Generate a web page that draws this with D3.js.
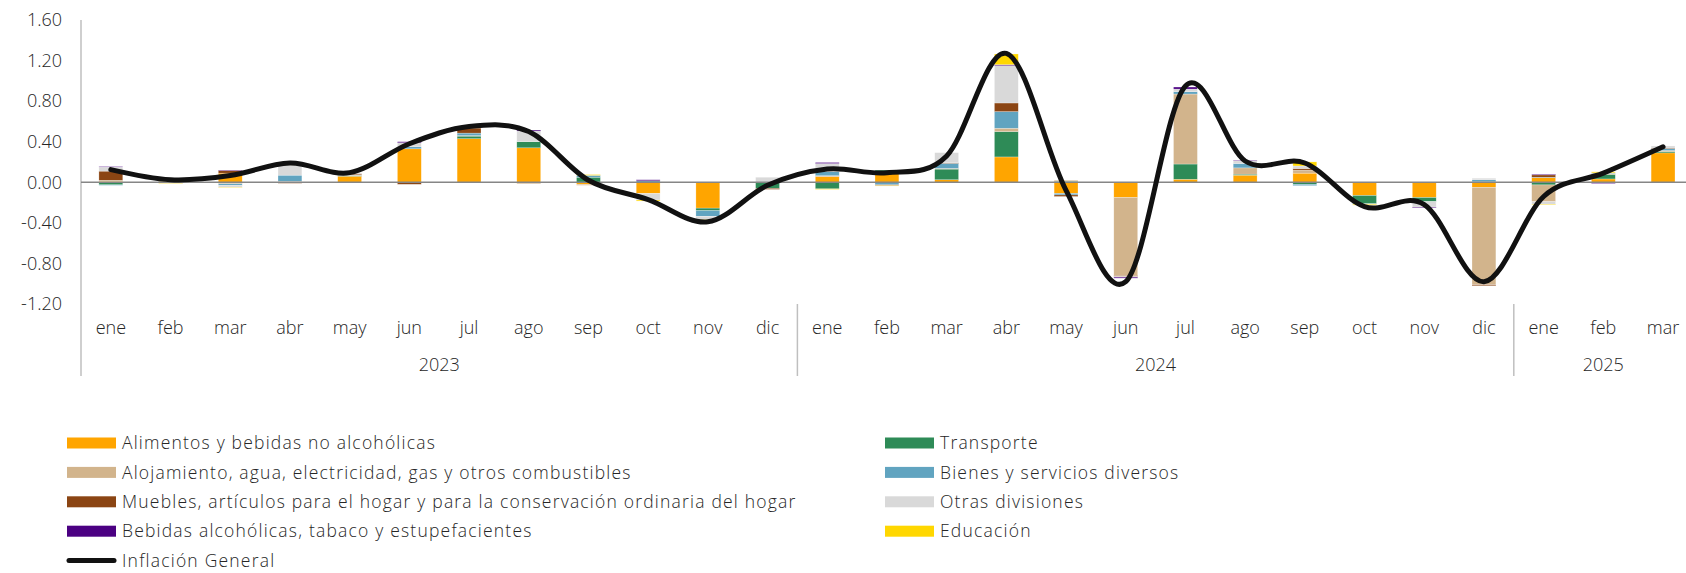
<!DOCTYPE html>
<html>
<head>
<meta charset="utf-8">
<script src="https://cdn.jsdelivr.net/npm/d3@7"></script>
<style>
  body { margin: 0; background: #fff; }
  text { font-family: "Open Sans", Lato, sans-serif; font-weight: 300; fill: #262626; }
</style>
</head>
<body>
<script>
// categories
var months = ["ene","feb","mar","abr","may","jun","jul","ago","sep","oct","nov","dic",
              "ene","feb","mar","abr","may","jun","jul","ago","sep","oct","nov","dic",
              "ene","feb","mar"];
var years = [
  { label: "2023", from: 0, to: 12 },
  { label: "2024", from: 12, to: 24 },
  { label: "2025", from: 24, to: 27 }
];
var yTicks = [-1.2, -0.8, -0.4, 0, 0.4, 0.8, 1.2, 1.6];

// contribution of each division (points)
var alimentos   = [0.01, 0.01, 0.09, 0.005, 0.06, 0.33, 0.43, 0.34, -0.02, -0.11, -0.255, -0.005,
                   0.055, 0.085, 0.025, 0.25, -0.11, -0.15, 0.03, 0.07, 0.09, -0.13, -0.15, -0.05,
                   0.045, 0.033, 0.29];
var transporte  = [-0.025, 0.0, -0.005, 0.0, 0.005, 0.0, 0.025, 0.06, 0.05, 0.0, -0.025, -0.055,
                   -0.065, 0.035, 0.105, 0.25, 0.01, 0.0, 0.15, 0.01, -0.02, -0.082, -0.04, 0.005,
                   -0.026, 0.045, 0.013];
var alojamiento = [0.01, -0.01, -0.01, 0.005, 0.005, 0.0, 0.005, -0.015, -0.01, 0.0, 0.0, 0.0,
                   0.01, 0.0, 0.007, 0.033, 0.01, -0.77, 0.69, 0.062, 0.03, 0.0, 0.0, -0.96,
                   -0.165, 0.01, 0.01];
var bienes      = [-0.005, 0.01, -0.015, 0.06, 0.005, 0.02, 0.025, 0.0, 0.018, 0.015, -0.055, 0.0,
                   0.04, -0.025, 0.05, 0.164, -0.015, 0.0, 0.023, 0.043, -0.013, 0.0, 0.0, 0.02,
                   0.005, 0.005, 0.02];
var muebles     = [0.09, 0.0, 0.025, -0.01, 0.01, -0.02, 0.05, 0.0, 0.0, 0.0, 0.0, -0.01,
                   0.0, -0.008, 0.005, 0.085, -0.015, -0.01, 0.0, 0.0, 0.016, 0.0, 0.0, -0.01,
                   0.023, 0.0, 0.005];
var otras       = [0.04, 0.01, -0.02, 0.10, 0.005, 0.04, 0.005, 0.105, 0.0, -0.065, -0.03, 0.05,
                   0.08, 0.0, 0.1, 0.368, 0.0, -0.005, 0.026, 0.026, 0.025, -0.005, -0.055, 0.015,
                   -0.025, 0.0, 0.02];
var bebidas     = [0.005, 0.0, 0.005, 0.0, 0.0, 0.01, 0.0, 0.01, 0.0, 0.01, 0.0, 0.0,
                   0.01, 0.0, 0.0, 0.01, 0.0, -0.01, 0.02, 0.006, 0.0, 0.0, -0.006, 0.0,
                   0.007, -0.012, 0.0];
var educacion   = [0.0, -0.005, -0.005, 0.025, 0.0, 0.0, 0.0, 0.0, 0.008, -0.01, -0.005, 0.0,
                   -0.005, -0.004, 0.0, 0.105, 0.0, 0.0, 0.0, 0.0, 0.04, -0.008, 0.0, 0.0,
                   -0.005, 0.01, 0.0];
// headline inflation
var general     = [0.125, 0.025, 0.066, 0.19, 0.095, 0.38, 0.55, 0.50, 0.02, -0.17, -0.39, -0.03,
                   0.13, 0.095, 0.26, 1.27, -0.08, -0.98, 0.95, 0.21, 0.19, -0.24, -0.22, -0.98,
                   -0.14, 0.09, 0.35];

var seriesNames = ["Alimentos y bebidas no alcohólicas", "Transporte",
                   "Alojamiento, agua, electricidad, gas y otros combustibles", "Bienes y servicios diversos",
                   "Muebles, artículos para el hogar y para la conservación ordinaria del hogar", "Otras divisiones",
                   "Bebidas alcohólicas, tabaco y estupefacientes", "Educación"];
var seriesData = [alimentos, transporte, alojamiento, bienes, muebles, otras, bebidas, educacion];
var colors = ["#FFA500", "#2E8B57", "#D2B48C", "#61A4C0", "#8B4513", "#D9D9D9", "#4B0082", "#FFD700"];

var width = 1686, height = 573;
var left = 81, step = 59.7;

var svg = d3.select("body").append("svg")
    .attr("width", width)
    .attr("height", height);

// rows for the stack
var rows = months.map(function(m, i) {
  var r = { i: i };
  seriesNames.forEach(function(n, k) { r[n] = seriesData[k][i]; });
  return r;
});

var stacked = d3.stack()
    .keys(seriesNames)
    .offset(d3.stackOffsetDiverging)(rows);

var x = d3.scaleBand()
    .domain(d3.range(months.length))
    .range([left, left + step * months.length])
    .paddingInner(0.6)
    .paddingOuter(0.3);

var y = d3.scaleLinear()
    .domain([-1.2, 1.6])
    .range([304, 20]);

// y tick labels
svg.append("g").selectAll("text")
    .data(yTicks)
    .enter().append("text")
    .attr("x", 62)
    .attr("y", function(d) { return y(d); })
    .attr("dy", "0.35em")
    .attr("text-anchor", "end")
    .style("font-size", "18px")
    .text(function(d) { return d.toFixed(2); });

// left axis line
svg.append("line")
    .attr("x1", left).attr("x2", left)
    .attr("y1", 20).attr("y2", 376)
    .attr("stroke", "#BFBFBF").attr("stroke-width", 1.5);

// year separators
svg.append("g").selectAll("line")
    .data(years.slice(1))
    .enter().append("line")
    .attr("x1", function(d) { return x(d.from) - x.step() * 0.3; })
    .attr("x2", function(d) { return x(d.from) - x.step() * 0.3; })
    .attr("y1", 304).attr("y2", 376)
    .attr("stroke", "#BFBFBF").attr("stroke-width", 1.5);

// stacked bars
svg.append("g").selectAll("g")
    .data(stacked)
    .enter().append("g")
    .attr("fill", function(d, k) { return colors[k]; })
    .selectAll("rect")
    .data(function(d) { return d; })
    .enter().append("rect")
    .attr("x", function(d) { return x(d.data.i); })
    .attr("width", x.bandwidth())
    .attr("y", function(d) { return y(Math.max(d[0], d[1])); })
    .attr("height", function(d) { return Math.abs(y(d[0]) - y(d[1])); })
    .attr("stroke", "#fff")
    .attr("stroke-opacity", 0.5)
    .attr("stroke-width", 0.5);

// zero line
svg.append("line")
    .attr("x1", left).attr("x2", width)
    .attr("y1", y(0)).attr("y2", y(0))
    .attr("stroke", "#868686").attr("stroke-width", 1.5);

// inflation line
var line = d3.line()
    .x(function(d, i) { return x(i) + x.bandwidth() / 2; })
    .y(function(d) { return y(d); })
    .curve(d3.curveCardinal.tension(0));

svg.append("path")
    .datum(general)
    .attr("d", line)
    .attr("fill", "none")
    .attr("stroke", "#111")
    .attr("stroke-width", 5)
    .attr("stroke-linecap", "round");

// month labels
svg.append("g").selectAll("text")
    .data(months)
    .enter().append("text")
    .attr("x", function(d, i) { return x(i) + x.bandwidth() / 2; })
    .attr("y", 328)
    .attr("dy", "0.35em")
    .attr("text-anchor", "middle")
    .style("font-size", "18px")
    .text(function(d) { return d; });

// year labels
svg.append("g").selectAll("text")
    .data(years)
    .enter().append("text")
    .attr("x", function(d) { return left + step * (d.from + d.to) / 2; })
    .attr("y", 364.5)
    .attr("dy", "0.35em")
    .attr("text-anchor", "middle")
    .style("font-size", "18px")
    .text(function(d) { return d.label; });

// legend
var legendItems = seriesNames.map(function(n, k) {
  return { name: n, color: colors[k], col: k % 2, row: Math.floor(k / 2), type: "bar" };
});
legendItems.push({ name: "Inflación General", color: "#111", col: 0, row: 4, type: "line" });

var legend = svg.append("g").selectAll("g")
    .data(legendItems)
    .enter().append("g")
    .attr("transform", function(d) {
      return "translate(" + (d.col === 0 ? 67 : 885) + "," + (443 + d.row * 29.4) + ")";
    });

legend.filter(function(d) { return d.type === "bar"; })
    .append("rect")
    .attr("x", 0).attr("y", -5.5)
    .attr("width", 49).attr("height", 11)
    .attr("fill", function(d) { return d.color; });

legend.filter(function(d) { return d.type === "line"; })
    .append("line")
    .attr("x1", 2).attr("x2", 47)
    .attr("y1", 0).attr("y2", 0)
    .attr("stroke", "#111")
    .attr("stroke-width", 5)
    .attr("stroke-linecap", "round");

legend.append("text")
    .attr("x", 55)
    .attr("y", 0)
    .attr("dy", "0.35em")
    .style("font-size", "17.5px")
    .style("letter-spacing", "1.2px")
    .text(function(d) { return d.name; });
</script>
</body>
</html>
